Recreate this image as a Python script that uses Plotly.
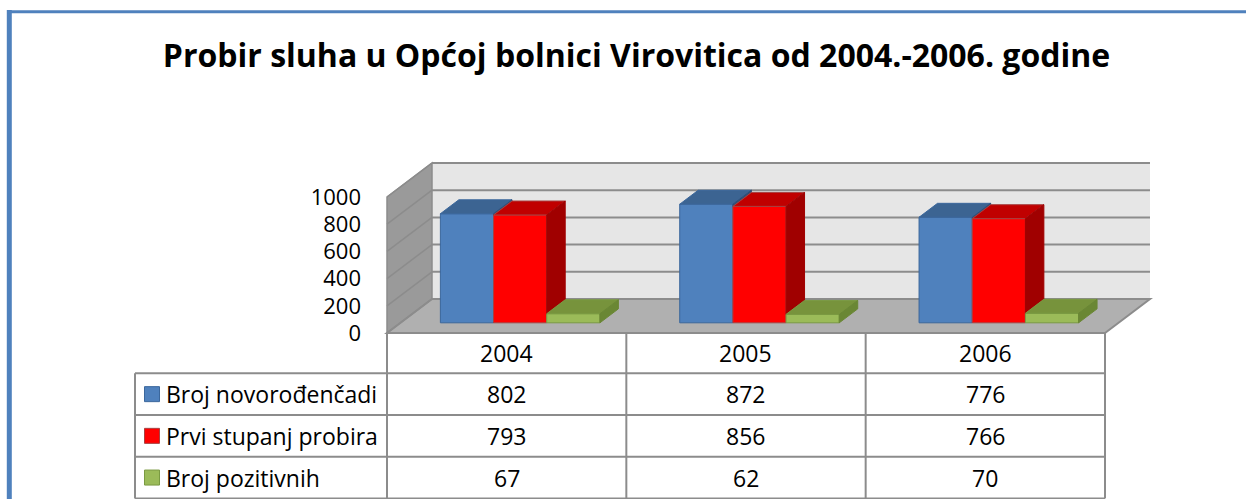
import plotly.graph_objects as go

# ---------------- data ----------------
years = ["2004", "2005", "2006"]
series_names = ["Broj novorođenčadi", "Prvi stupanj probira", "Broj pozitivnih"]
broj_novorodjencadi = [802, 872, 776]
prvi_stupanj_probira = [793, 856, 766]
broj_pozitivnih = [67, 62, 70]
y_tick_values = [0, 200, 400, 600, 800, 1000]
title_text = "Probir sluha u Općoj bolnici Virovitica od 2004.-2006. godine"

series_values = [broj_novorodjencadi, prvi_stupanj_probira, broj_pozitivnih]

# ---------------- styles ----------------
front_colors = ["#4F81BD", "#FF0000", "#9BBB59"]
top_colors = ["#3C6492", "#C00000", "#77933C"]
side_colors = ["#2E4F78", "#A00000", "#6A8734"]
edge_colors = ["#3B679C", "#A84040", "#7A9A42"]
FONT = "Open Sans"
TITLE_FONT = "Open Sans"
GRID = "#8C8C8C"

# ---------------- geometry (layout) ----------------
W, H = 1246, 499
X0_PX, CAT_PX = 387.0, 239.33      # front plane: x of category 0, px per category
Y0_PX, VAL_PX = 333.0, 0.136       # front plane: y of value 0, px per value unit
DEPTH_PX = (45.0, 34.0)            # projected depth of the floor (right, up)
DX = DEPTH_PX[0] / CAT_PX
DY = DEPTH_PX[1] / VAL_PX
BAR_FRONT = 0.30                   # depth fraction where bar fronts sit
BAR_DEPTH = 0.41                   # depth fraction of a bar
GAP = 1.5
n_cat = len(years)
n_ser = len(series_values)
bar_w = 1.0 / (n_ser + GAP)
vmax = max(y_tick_values)

x_range = [-X0_PX / CAT_PX, (W - X0_PX) / CAT_PX]
y_range = [(Y0_PX - H) / VAL_PX, Y0_PX / VAL_PX]


def pxx(p):
    return p / W


def pxy(p):
    return 1 - p / H


fig = go.Figure()

# ---------------- bars: front faces ----------------
for s in range(n_ser):
    fig.add_trace(go.Bar(
        x=[i + 0.5 + BAR_FRONT * DX for i in range(n_cat)],
        y=series_values[s],
        base=BAR_FRONT * DY,
        width=bar_w,
        offset=-n_ser * bar_w / 2 + s * bar_w,
        marker=dict(color=front_colors[s], line=dict(color=edge_colors[s], width=1)),
        name=series_names[s],
        showlegend=False,
        hovertemplate=series_names[s] + ": %{y}<extra></extra>",
    ))

# ---------------- bars: top and side faces ----------------
gdx, gdy = BAR_DEPTH * DX, BAR_DEPTH * DY
for s in range(n_ser):
    tx, ty, sx, sy = [], [], [], []
    for i in range(n_cat):
        v = series_values[s][i]
        xl = i + (1 - n_ser * bar_w) / 2 + s * bar_w + BAR_FRONT * DX
        xr = xl + bar_w
        yt = v + BAR_FRONT * DY
        tx += [xl, xr, xr + gdx, xl + gdx, xl, None]
        ty += [yt, yt, yt + gdy, yt + gdy, yt, None]
        nxt = series_values[s + 1][i] if s + 1 < n_ser else 0
        if nxt < v:
            yb = BAR_FRONT * DY + nxt
            sx += [xr, xr, xr + gdx, xr + gdx, xr, None]
            sy += [yb, yt, yt + gdy, yb + gdy, yb, None]
    fig.add_trace(go.Scatter(x=tx, y=ty, mode="lines", fill="toself",
                             fillcolor=top_colors[s],
                             line=dict(color=edge_colors[s], width=1),
                             showlegend=False, hoverinfo="skip"))
    if sx:
        fig.add_trace(go.Scatter(x=sx, y=sy, mode="lines", fill="toself",
                                 fillcolor=side_colors[s],
                                 line=dict(color=side_colors[s], width=1),
                                 showlegend=False, hoverinfo="skip"))

shapes = []


def path(pts):
    return "M " + " L ".join(f"{a},{b}" for a, b in pts) + " Z"


# back wall
shapes.append(dict(type="path", xref="x", yref="y", layer="below",
                   path=path([(DX, DY), (n_cat + DX, DY), (n_cat + DX, vmax + DY), (DX, vmax + DY)]),
                   fillcolor="#E6E6E6", line=dict(width=0)))
# side wall
shapes.append(dict(type="path", xref="x", yref="y", layer="below",
                   path=path([(0, 0), (0, vmax), (DX, vmax + DY), (DX, DY)]),
                   fillcolor="#9A9A9A", line=dict(color=GRID, width=1.5)))
# floor
shapes.append(dict(type="path", xref="x", yref="y", layer="below",
                   path=path([(0, 0), (n_cat, 0), (n_cat + DX, DY), (DX, DY)]),
                   fillcolor="#B0B0B0", line=dict(color=GRID, width=2)))
# gridlines
for v in y_tick_values:
    shapes.append(dict(type="line", xref="x", yref="y", layer="below",
                       x0=DX, x1=n_cat + DX, y0=v + DY, y1=v + DY,
                       line=dict(color=GRID, width=2)))
    shapes.append(dict(type="line", xref="x", yref="y", layer="below",
                       x0=0, x1=DX, y0=v, y1=v + DY,
                       line=dict(color=GRID, width=1.5)))

# ---------------- data table ----------------
TBL_LEFT = 135
HDR_TOP = Y0_PX
ROW_H = 41.7
row_tops = [373.3 + k * ROW_H for k in range(n_ser + 1)]
col_x = [X0_PX + k * CAT_PX for k in range(n_cat + 1)]
TBL_COL = "#8C8C8C"
for yy in row_tops:
    shapes.append(dict(type="line", xref="paper", yref="paper",
                       x0=pxx(TBL_LEFT), x1=pxx(col_x[-1]), y0=pxy(yy), y1=pxy(yy),
                       line=dict(color=TBL_COL, width=2)))
shapes.append(dict(type="line", xref="paper", yref="paper",
                   x0=pxx(TBL_LEFT), x1=pxx(TBL_LEFT), y0=pxy(row_tops[0]), y1=pxy(row_tops[-1]),
                   line=dict(color=TBL_COL, width=2)))
for cx in col_x:
    shapes.append(dict(type="line", xref="paper", yref="paper",
                       x0=pxx(cx), x1=pxx(cx), y0=pxy(HDR_TOP), y1=pxy(row_tops[-1]),
                       line=dict(color=TBL_COL, width=2)))

annotations = []
NUM_FS = 23
LBL_FS = 23
TICK_FS = 22
for i, yr in enumerate(years):
    annotations.append(dict(xref="paper", yref="paper", x=pxx((col_x[i] + col_x[i + 1]) / 2),
                            y=pxy((HDR_TOP + row_tops[0]) / 2), text=yr, showarrow=False,
                            xanchor="center", yanchor="middle",
                            font=dict(family=FONT, size=NUM_FS, color="black")))
for s in range(n_ser):
    yc = (row_tops[s] + row_tops[s + 1]) / 2
    shapes.append(dict(type="rect", xref="paper", yref="paper",
                       x0=pxx(144.5), x1=pxx(159.5), y0=pxy(yc - 7.5), y1=pxy(yc + 7.5),
                       fillcolor=front_colors[s], line=dict(color=edge_colors[s], width=1)))
    annotations.append(dict(xref="paper", yref="paper", x=pxx(164), y=pxy(yc),
                            text=series_names[s], showarrow=False,
                            xanchor="left", yanchor="middle",
                            font=dict(family=FONT, size=LBL_FS, color="black")))
    for i in range(n_cat):
        annotations.append(dict(xref="paper", yref="paper",
                                x=pxx((col_x[i] + col_x[i + 1]) / 2), y=pxy(yc),
                                text=str(series_values[s][i]), showarrow=False,
                                xanchor="center", yanchor="middle",
                                font=dict(family=FONT, size=NUM_FS, color="black")))

# ---------------- chart border ----------------
shapes.append(dict(type="line", xref="paper", yref="paper",
                   x0=pxx(9.3), x1=pxx(9.3), y0=pxy(10), y1=pxy(H + 20),
                   line=dict(color="#4F81BD", width=5)))
shapes.append(dict(type="line", xref="paper", yref="paper",
                   x0=pxx(7), x1=pxx(W + 20), y0=pxy(11.7), y1=pxy(11.7),
                   line=dict(color="#4F81BD", width=3)))

fig.update_layout(
    width=W, height=H,
    margin=dict(l=0, r=0, t=0, b=0),
    paper_bgcolor="white",
    plot_bgcolor="rgba(0,0,0,0)",
    barmode="overlay",
    showlegend=False,
    title=dict(text=title_text, x=636.5 / W, xref="container", xanchor="center",
               y=1 - 56 / H, yref="container", yanchor="middle",
               font=dict(family=TITLE_FONT, size=32, color="black", weight="bold")),
    xaxis=dict(range=x_range, visible=False, fixedrange=True),
    yaxis=dict(range=y_range, tickvals=y_tick_values, ticktext=[str(t) for t in y_tick_values],
               showgrid=False, zeroline=False, showline=False, ticks="",
               anchor="free", position=X0_PX / W, side="left",
               ticklabelstandoff=26, fixedrange=True,
               tickfont=dict(family=FONT, size=TICK_FS, color="black")),
    shapes=shapes,
    annotations=annotations,
)

fig.write_html(
    "out.html",
    config={"displayModeBar": False},
    post_script="document.body.style.margin='0';document.body.style.overflow='hidden';",
)
